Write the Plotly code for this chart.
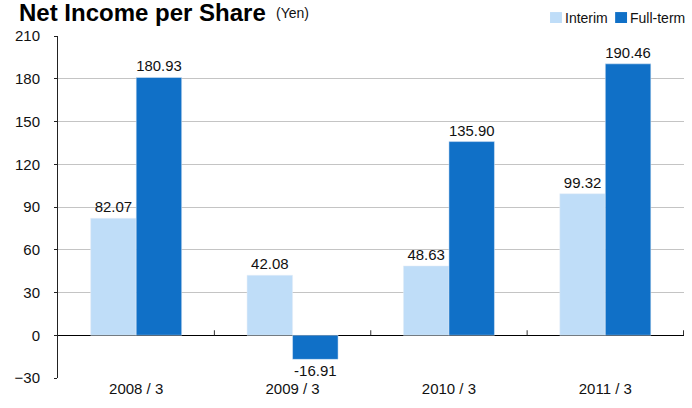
import plotly.graph_objects as go

# Data
years = ["2008/3", "2009/3", "2010/3", "2011/3"]
year_labels = ["2008 / 3", "2009 / 3", "2010 / 3", "2011 / 3"]
interim = [82.07, 42.08, 48.63, 99.32]
full_term = [180.93, -16.91, 135.90, 190.46]
y_ticks = [-30, 0, 30, 60, 90, 120, 150, 180, 210]

font_fam = "Liberation Sans, Arial, sans-serif"
c_interim = "#BFDDF8"
c_full = "#1070C7"

fig = go.Figure()
fig.add_trace(go.Bar(x=years, y=interim, name="Interim", marker_color=c_interim,
                     text=["%.2f" % v for v in interim], textposition="outside",
                     textfont=dict(size=15, color="#111"), cliponaxis=False))
fig.add_trace(go.Bar(x=years, y=full_term, name="Full-term", marker_color=c_full,
                     text=["%.2f" % v for v in full_term], textposition="outside",
                     textfont=dict(size=15, color="#111"), cliponaxis=False))

# small ticks on the zero line between categories
for b in [0.5, 1.5, 2.5, 3.5]:
    fig.add_shape(type="line", xref="x", yref="y", x0=b, x1=b, y0=0, y1=5,
                  ysizemode="pixel", yanchor=0, line=dict(color="#333", width=1))

# legend drawn by hand (tight squares next to the text)
for name, col, x0 in [("Interim", c_interim, 0.786), ("Full-term", c_full, 0.890)]:
    fig.add_shape(type="rect", xref="paper", yref="paper", x0=x0, x1=x0 + 0.019,
                  y0=1.038, y1=1.070, fillcolor=col, line=dict(width=0))
    fig.add_annotation(text=name, xref="paper", yref="paper", x=x0 + 0.020, y=1.054,
                       xanchor="left", yanchor="middle", showarrow=False,
                       font=dict(size=14, color="#111"))

# title
fig.add_annotation(text="<b>Net Income per Share</b>", xref="paper", yref="paper",
                   x=-0.066, y=1.068, xanchor="left", yanchor="middle", showarrow=False,
                   font=dict(size=24, color="#000"))
fig.add_annotation(text="(Yen)", xref="paper", yref="paper",
                   x=0.345, y=1.066, xanchor="left", yanchor="middle", showarrow=False,
                   font=dict(size=14, color="#111"))

fig.update_layout(
    width=692, height=408,
    margin=dict(l=58, r=8, t=36, b=30, autoexpand=False),
    plot_bgcolor="white", paper_bgcolor="white",
    font=dict(family=font_fam, size=15, color="#111"),
    barmode="group", bargap=0.418, bargroupgap=0,
    showlegend=False,
)
fig.update_xaxes(showgrid=False, showline=False, ticks="", tickfont=dict(size=15),
                 tickvals=years, ticktext=year_labels)
fig.update_yaxes(range=[-30, 210], tickvals=y_ticks, showgrid=True, gridcolor="#C4C4C4",
                 showline=True, linecolor="#222", ticks="outside", ticklen=3, tickcolor="#222",
                 zeroline=True, zerolinecolor="#000", zerolinewidth=1, tickfont=dict(size=15),
                 ticklabelstandoff=11)

# page body margin would shift the chart by 8px
fig.write_html("out.html", config={"displayModeBar": False},
               post_script="document.body.style.margin='0';")
